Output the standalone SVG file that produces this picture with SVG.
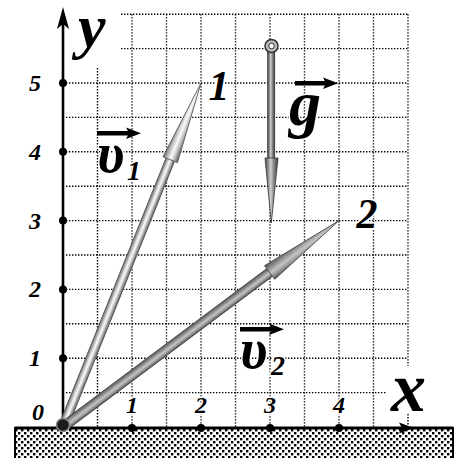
<svg xmlns="http://www.w3.org/2000/svg" width="462" height="458" viewBox="0 0 462 458">
<defs>
<style>
.g{stroke:#000;stroke-width:1.4;stroke-dasharray:1.4 1.6;fill:none}
.t{font-family:"Liberation Serif","Times New Roman",serif;font-weight:bold;font-style:italic;fill:#000;stroke:#fff;stroke-width:3;paint-order:stroke;stroke-linejoin:round}
.n{font-size:24px;text-anchor:middle}
.tick{fill:#000}
</style>
<pattern id="dots" width="6" height="6" patternUnits="userSpaceOnUse">
<rect width="6" height="6" fill="#fff"/>
<rect x="0" y="0" width="2.4" height="2.4" fill="#000"/>
<rect x="3" y="3" width="2.4" height="2.4" fill="#000"/>
</pattern>
<linearGradient id="v1g" x1="0" y1="0" x2="0" y2="1">
<stop offset="0" stop-color="#6a6a6a"/><stop offset="0.35" stop-color="#d8d8d8"/><stop offset="0.5" stop-color="#fafafa"/><stop offset="0.7" stop-color="#c4c4c4"/><stop offset="1" stop-color="#5a5a5a"/>
</linearGradient>
<linearGradient id="v2g" x1="0" y1="0" x2="0" y2="1">
<stop offset="0" stop-color="#555"/><stop offset="0.4" stop-color="#a8a8a8"/><stop offset="0.55" stop-color="#c4c4c4"/><stop offset="0.8" stop-color="#909090"/><stop offset="1" stop-color="#4a4a4a"/>
</linearGradient>
<linearGradient id="gg" x1="0" y1="0" x2="1" y2="0">
<stop offset="0" stop-color="#444"/><stop offset="0.45" stop-color="#d0d0d0"/><stop offset="0.6" stop-color="#9a9a9a"/><stop offset="1" stop-color="#3a3a3a"/>
</linearGradient>
</defs>
<rect width="462" height="458" fill="#fff"/>
<g id="grid">
<line class="g" x1="121" y1="14.2" x2="408" y2="14.2"/>
<line class="g" x1="121" y1="48.6" x2="408" y2="48.6"/>
<line class="g" x1="66" y1="83" x2="408" y2="83"/>
<line class="g" x1="66" y1="117.4" x2="408" y2="117.4"/>
<line class="g" x1="66" y1="151.8" x2="408" y2="151.8"/>
<line class="g" x1="66" y1="186.2" x2="408" y2="186.2"/>
<line class="g" x1="66" y1="220.6" x2="408" y2="220.6"/>
<line class="g" x1="66" y1="255" x2="408" y2="255"/>
<line class="g" x1="66" y1="289.4" x2="408" y2="289.4"/>
<line class="g" x1="66" y1="323.8" x2="408" y2="323.8"/>
<line class="g" x1="66" y1="358.2" x2="408" y2="358.2"/>
<line class="g" x1="66" y1="392.6" x2="386" y2="392.6"/>
<line class="g" x1="97.5" y1="68" x2="97.5" y2="427"/>
<line class="g" x1="132" y1="14.2" x2="132" y2="427"/>
<line class="g" x1="166.5" y1="14.2" x2="166.5" y2="427"/>
<line class="g" x1="201" y1="14.2" x2="201" y2="427"/>
<line class="g" x1="235.5" y1="14.2" x2="235.5" y2="427"/>
<line class="g" x1="270" y1="14.2" x2="270" y2="427"/>
<line class="g" x1="304.5" y1="14.2" x2="304.5" y2="427"/>
<line class="g" x1="339" y1="14.2" x2="339" y2="427"/>
<line class="g" x1="373.5" y1="14.2" x2="373.5" y2="427"/>
<line class="g" x1="408" y1="14.2" x2="408" y2="366"/>
<line class="g" x1="408" y1="414" x2="408" y2="427"/>
</g>
<g id="ground">
<rect x="15" y="428" width="438" height="32" fill="url(#dots)" stroke="#000" stroke-width="2"/>
<line x1="15" y1="428" x2="453" y2="428" stroke="#000" stroke-width="3"/>
</g>
<g id="axes">
<line x1="63" y1="427" x2="63" y2="16" stroke="#000" stroke-width="2.6"/>
<polygon points="63,7 57,29 63,24 69,29" fill="#000"/>
<polygon points="414,428 399,422.5 402,428 399,433.5" fill="#000"/>
<circle class="tick" cx="63" cy="83" r="4"/>
<circle class="tick" cx="63" cy="151.8" r="4"/>
<circle class="tick" cx="63" cy="220.6" r="4"/>
<circle class="tick" cx="63" cy="289.4" r="4"/>
<circle class="tick" cx="63" cy="358.2" r="4"/>
<circle class="tick" cx="132" cy="428" r="4"/>
<circle class="tick" cx="201" cy="428" r="4"/>
<circle class="tick" cx="270" cy="428" r="4"/>
<circle class="tick" cx="339" cy="428" r="4"/>
</g>
<g id="vector-v1" transform="translate(63,427) rotate(-68.14)">
<rect x="4" y="-4.6" width="287" height="9.2" fill="url(#v1g)" stroke="#555" stroke-width="0.8"/>
<polygon points="288,-7.8 370.6,0 288,7.8" fill="url(#v1g)" stroke="#555" stroke-width="0.8"/>
</g>
<g id="vector-v2" transform="translate(63,427) rotate(-36.79)">
<rect x="4" y="-4.8" width="258" height="9.6" fill="url(#v2g)" stroke="#444" stroke-width="0.8"/>
<polygon points="258,-8.5 344.6,0 258,8.5" fill="url(#v2g)" stroke="#444" stroke-width="0.8"/>
</g>
<g id="origin">
<circle cx="63" cy="425" r="6.5" fill="#1a1a1a" stroke="#888" stroke-width="1.5"/>
</g>
<g id="vector-g">
<rect x="267.7" y="52" width="7" height="107" fill="url(#gg)" stroke="#333" stroke-width="0.8"/>
<polygon points="265,158 278,158 271.3,223" fill="url(#gg)" stroke="#333" stroke-width="0.8"/>
<circle cx="271.5" cy="46" r="6.5" fill="#bbb" stroke="#333" stroke-width="1.5"/>
<circle cx="271.5" cy="46" r="2.8" fill="#fff" stroke="#333" stroke-width="1"/>
</g>
<g id="labels">
<text class="t" x="78" y="47" font-size="62">y</text>
<text class="t" x="391" y="411" font-size="70">x</text>
<text class="t n" x="35" y="91">5</text>
<text class="t n" x="35" y="160">4</text>
<text class="t n" x="35" y="229">3</text>
<text class="t n" x="35" y="297">2</text>
<text class="t n" x="35" y="366">1</text>
<text class="t n" x="38" y="420">0</text>
<text class="t n" x="132" y="413">1</text>
<text class="t n" x="201" y="413">2</text>
<text class="t n" x="270" y="413">3</text>
<text class="t n" x="339" y="413">4</text>
<text class="t" x="219" y="100" font-size="42" text-anchor="middle">1</text>
<text class="t" x="367" y="228" font-size="42" text-anchor="middle">2</text>
<text class="t" x="97" y="172" font-size="56">υ</text>
<text class="t" x="127" y="180" font-size="28">1</text>
<text class="t" x="240" y="368" font-size="56">υ</text>
<text class="t" x="271" y="375" font-size="28">2</text>
<text class="t" x="289" y="125" font-size="64">g</text>
</g>
<g id="label-arrows" fill="#000">
<rect x="97" y="131" width="32" height="4.5"/>
<polygon points="141,133.2 126,127.5 129,133.2 126,139"/>
<rect x="240" y="327" width="32" height="4.5"/>
<polygon points="284,329.2 269,323.5 272,329.2 269,335"/>
<rect x="295" y="81" width="31" height="4.5"/>
<polygon points="338,83.2 323,77.5 326,83.2 323,89"/>
</g>
</svg>
